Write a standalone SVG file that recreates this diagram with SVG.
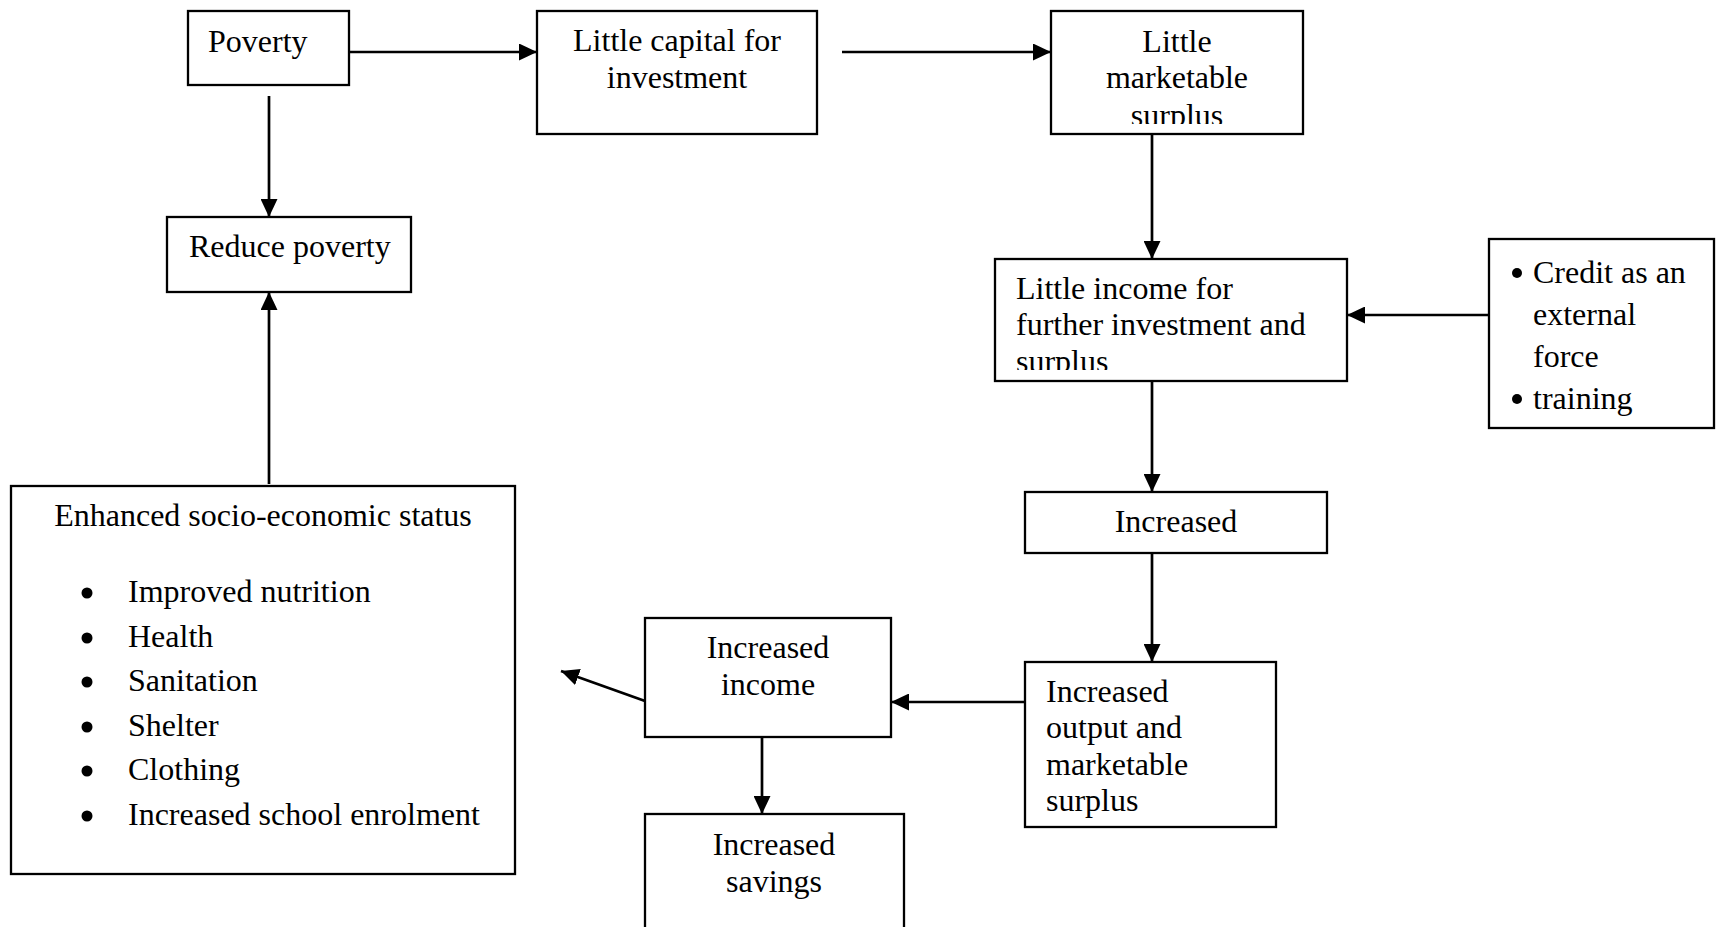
<svg xmlns="http://www.w3.org/2000/svg" width="1716" height="927" viewBox="0 0 1716 927">
<style>
.box{fill:#fff;stroke:#000;stroke-width:2.3}
.t{font-family:"Liberation Serif","Times New Roman",serif;font-size:32px;fill:#000}
.c{text-anchor:middle}
.ln{stroke:#000;stroke-width:2.7;fill:none;marker-end:url(#ah)}
.bul{fill:#000}
</style>
<defs>
<marker id="ah" markerUnits="userSpaceOnUse" markerWidth="18" markerHeight="17" refX="18" refY="8.5" orient="auto">
<path d="M0,0 L18,8.5 L0,17 z" fill="#000"/>
</marker>
<clipPath id="clip1"><rect x="1051" y="11" width="252" height="113"/></clipPath>
<clipPath id="clip2"><rect x="995" y="259" width="352" height="111"/></clipPath>
</defs>
<rect width="1716" height="927" fill="#fff"/>
<g id="connectors">
<line class="ln" x1="349" y1="52" x2="537" y2="52"/>
<line class="ln" x1="842" y1="52" x2="1051" y2="52"/>
<line class="ln" x1="269" y1="96" x2="269" y2="217"/>
<line class="ln" x1="269" y1="484" x2="269" y2="292"/>
<line class="ln" x1="1152" y1="134" x2="1152" y2="259"/>
<line class="ln" x1="1489" y1="315" x2="1347" y2="315"/>
<line class="ln" x1="1152" y1="381" x2="1152" y2="492"/>
<line class="ln" x1="1152" y1="553" x2="1152" y2="662"/>
<line class="ln" x1="1025" y1="702" x2="891" y2="702"/>
<line class="ln" x1="762" y1="737" x2="762" y2="814"/>
<line class="ln" x1="645" y1="701" x2="561" y2="671"/>
</g>
<g id="poverty">
<rect class="box" x="188" y="11" width="161" height="74"/>
<text class="t" x="208" y="52">Poverty</text>
</g>
<g id="little-capital">
<rect class="box" x="537" y="11" width="280" height="123"/>
<text class="t c" x="677" y="51">Little capital for</text>
<text class="t c" x="677" y="88">investment</text>
</g>
<g id="little-marketable">
<rect class="box" x="1051" y="11" width="252" height="123"/>
<text class="t c" x="1177" y="51.5">Little</text>
<text class="t c" x="1177" y="88">marketable</text>
<text class="t c" x="1177" y="125.5" clip-path="url(#clip1)">surplus</text>
</g>
<g id="little-income">
<rect class="box" x="995" y="259" width="352" height="122"/>
<text class="t" x="1016" y="299">Little income for</text>
<text class="t" x="1016" y="335">further investment and</text>
<text class="t" x="1016" y="372" clip-path="url(#clip2)">surplus</text>
</g>
<g id="credit">
<rect class="box" x="1489" y="239" width="225" height="189"/>
<circle class="bul" cx="1517" cy="273" r="5"/>
<text class="t" x="1533" y="283">Credit as an</text>
<text class="t" x="1533" y="325">external</text>
<text class="t" x="1533" y="367">force</text>
<circle class="bul" cx="1517" cy="399" r="5"/>
<text class="t" x="1533" y="409">training</text>
</g>
<g id="reduce-poverty">
<rect class="box" x="167" y="217" width="244" height="75"/>
<text class="t" x="189" y="257">Reduce poverty</text>
</g>
<g id="enhanced">
<rect class="box" x="11" y="486" width="504" height="388"/>
<text class="t c" x="263" y="526">Enhanced socio-economic status</text>
<circle class="bul" cx="87" cy="593" r="5.5"/>
<text class="t" x="128" y="602">Improved nutrition</text>
<circle class="bul" cx="87" cy="638" r="5.5"/>
<text class="t" x="128" y="647">Health</text>
<circle class="bul" cx="87" cy="682" r="5.5"/>
<text class="t" x="128" y="691">Sanitation</text>
<circle class="bul" cx="87" cy="727" r="5.5"/>
<text class="t" x="128" y="736">Shelter</text>
<circle class="bul" cx="87" cy="771" r="5.5"/>
<text class="t" x="128" y="780">Clothing</text>
<circle class="bul" cx="87" cy="816" r="5.5"/>
<text class="t" x="128" y="825">Increased school enrolment</text>
</g>
<g id="increased">
<rect class="box" x="1025" y="492" width="302" height="61"/>
<text class="t c" x="1176" y="532">Increased</text>
</g>
<g id="increased-output">
<rect class="box" x="1025" y="662" width="251" height="165"/>
<text class="t" x="1046" y="702">Increased</text>
<text class="t" x="1046" y="738">output and</text>
<text class="t" x="1046" y="775">marketable</text>
<text class="t" x="1046" y="811">surplus</text>
</g>
<g id="increased-income">
<rect class="box" x="645" y="618" width="246" height="119"/>
<text class="t c" x="768" y="658">Increased</text>
<text class="t c" x="768" y="695">income</text>
</g>
<g id="increased-savings">
<rect class="box" x="645" y="814" width="259" height="130"/>
<text class="t c" x="774" y="855">Increased</text>
<text class="t c" x="774" y="892">savings</text>
</g>
</svg>
